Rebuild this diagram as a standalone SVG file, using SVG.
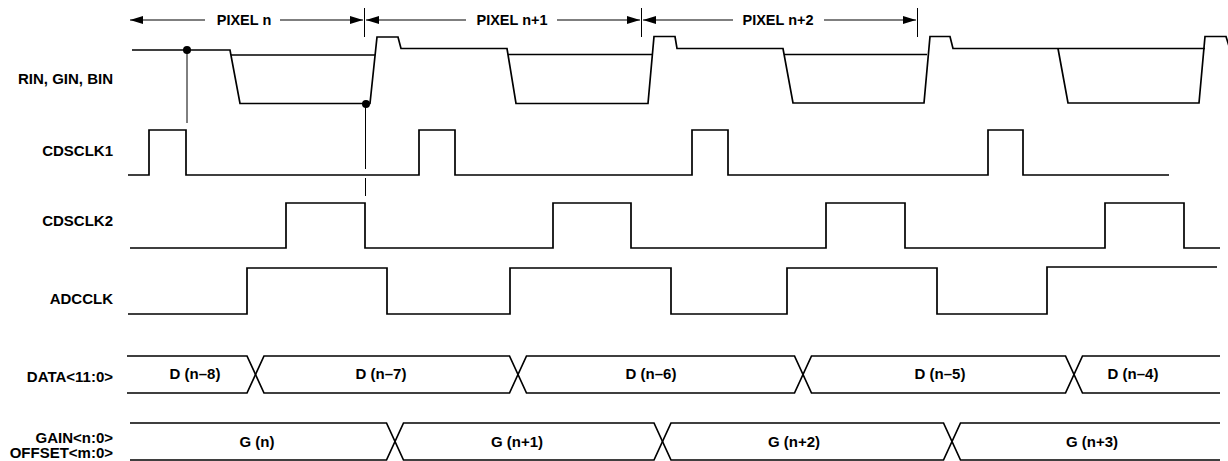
<svg xmlns="http://www.w3.org/2000/svg" width="1228" height="461" viewBox="0 0 1228 461">
<style>
text{font-family:"Liberation Sans",Arial,sans-serif;font-weight:bold;font-size:15px;fill:#000}
.lbl{text-anchor:end}
.mid{text-anchor:middle}
.px{font-size:14.5px;text-anchor:middle}
.w{fill:none;stroke:#000;stroke-width:1.7;stroke-linejoin:miter}
.g{fill:none;stroke:#000;stroke-width:1}
.a{fill:none;stroke:#000;stroke-width:1.2}
</style>
<defs>
<marker id="ah" viewBox="0 0 13 8" refX="13" refY="4" markerWidth="13" markerHeight="8" markerUnits="userSpaceOnUse" orient="auto-start-reverse">
<path d="M0,0 L13,4 L0,8 Z" fill="#000"/>
</marker>
</defs>

<g id="connectors">
<line class="a" x1="130" y1="20" x2="205" y2="20" marker-start="url(#ah)"/>
<line class="a" x1="280" y1="20" x2="363" y2="20" marker-end="url(#ah)"/>
<line class="a" x1="366" y1="20" x2="466" y2="20" marker-start="url(#ah)"/>
<line class="a" x1="557" y1="20" x2="640" y2="20" marker-end="url(#ah)"/>
<line class="a" x1="643" y1="20" x2="733" y2="20" marker-start="url(#ah)"/>
<line class="a" x1="824" y1="20" x2="916" y2="20" marker-end="url(#ah)"/>
<line class="g" x1="364.5" y1="8" x2="364.5" y2="37"/>
<line class="g" x1="641.5" y1="8" x2="641.5" y2="37"/>
<line class="g" x1="917.5" y1="8" x2="917.5" y2="37"/>
<line class="g" x1="187" y1="50" x2="187" y2="123"/>
<line class="g" x1="365.5" y1="104" x2="365.5" y2="169"/>
<line class="g" x1="365.5" y1="178" x2="365.5" y2="196"/>
<circle cx="187" cy="50" r="4" fill="#000"/>
<circle cx="366" cy="104" r="4" fill="#000"/>
</g>

<g id="pixel-labels">
<text class="px" x="244" y="25">PIXEL n</text>
<text class="px" x="512" y="25">PIXEL n+1</text>
<text class="px" x="778" y="25">PIXEL n+2</text>
</g>

<g id="rin">
<text class="lbl" x="113" y="84">RIN, GIN, BIN</text>
<path class="w" d="M132,50 H230 L240,103.5 H370 L377,37 H398 L401,48.5 H507 L516,103.5 H648 L654,36.5 H675 L677,48.5 H783 L793,103 H924 L930,36.5 H950 L953,48.5 H1205"/>
<path class="w" d="M231,55 H375"/>
<path class="w" d="M508,54.5 H652"/>
<path class="w" d="M784,54.5 H927"/>
<path class="w" d="M1058,48.5 L1068,103 H1199 L1205,36.5 H1226 L1229,46"/>
</g>

<g id="cdsclk1">
<text class="lbl" x="113" y="156">CDSCLK1</text>
<path class="w" d="M128,175 H149 V130 H186 V175 H419 V130 H455 V175 H692 V130 H728 V175 H988 V130 H1023 V175 H1169"/>
</g>

<g id="cdsclk2">
<text class="lbl" x="113" y="226">CDSCLK2</text>
<path class="w" d="M130,248 H286 V203 H365 V248 H553 V203 H631 V248 H826 V203 H905 V248 H1105 V203 H1184 V248 H1220"/>
</g>

<g id="adcclk">
<text class="lbl" x="113" y="304">ADCCLK</text>
<path class="w" d="M128,314 H247 V268 H387 V314 H510 V268 H671 V314 H787 V268 H937 V314 H1047 V267 H1217"/>
</g>

<g id="data">
<text class="lbl" x="113" y="382">DATA&lt;11:0&gt;</text>
<path class="w" d="M127,356 H247 L264,393 H509.5 L526.5,356 H794.5 L811.5,393 H1065.5 L1082.5,356 H1220"/>
<path class="w" d="M127,393 H247 L264,356 H509.5 L526.5,393 H794.5 L811.5,356 H1065.5 L1082.5,393 H1220"/>
<text class="mid" x="195" y="379">D (n–8)</text>
<text class="mid" x="381" y="379">D (n–7)</text>
<text class="mid" x="651" y="379">D (n–6)</text>
<text class="mid" x="940" y="379">D (n–5)</text>
<text class="mid" x="1133" y="379">D (n–4)</text>
</g>

<g id="gain">
<text class="lbl" x="113" y="443">GAIN&lt;n:0&gt;</text>
<text class="lbl" x="113" y="458">OFFSET&lt;m:0&gt;</text>
<path class="w" d="M130,423 H386.5 L403.5,460 H654 L671,423 H943.5 L960.5,460 H1220"/>
<path class="w" d="M130,460 H386.5 L403.5,423 H654 L671,460 H943.5 L960.5,423 H1220"/>
<text class="mid" x="257" y="446.5">G (n)</text>
<text class="mid" x="517" y="446.5">G (n+1)</text>
<text class="mid" x="794" y="446.5">G (n+2)</text>
<text class="mid" x="1092" y="446.5">G (n+3)</text>
</g>
</svg>
